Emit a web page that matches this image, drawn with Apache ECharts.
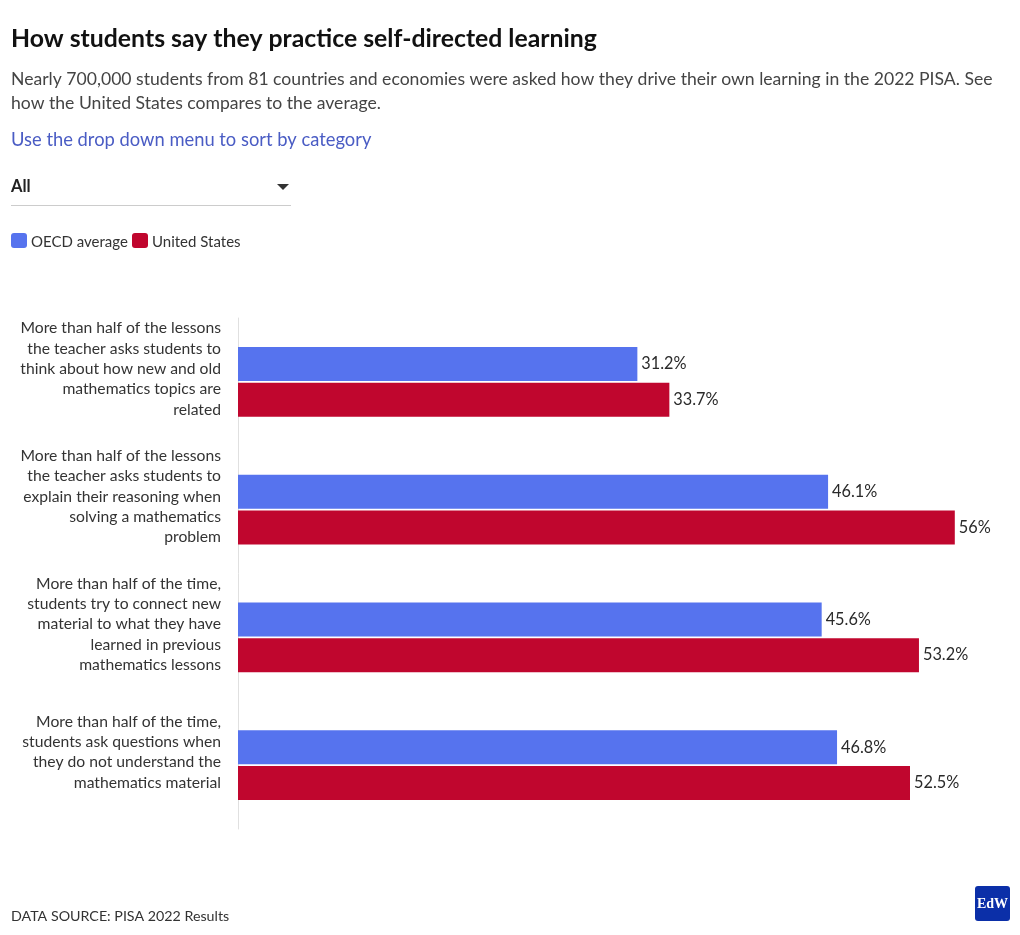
<!DOCTYPE html>
<html>
<head>
<meta charset="utf-8">
<script src="https://cdn.jsdelivr.net/npm/echarts@6/dist/echarts.min.js"></script>
<style>
html,body{margin:0;padding:0;background:#fff;}
#chart{width:1020px;height:935px;}
</style>
</head>
<body>
<div id="chart"></div>
<script>
const categories = [
  "More than half of the lessons\nthe teacher asks students to\nthink about how new and old\nmathematics topics are\nrelated",
  "More than half of the lessons\nthe teacher asks students to\nexplain their reasoning when\nsolving a mathematics\nproblem",
  "More than half of the time,\nstudents try to connect new\nmaterial to what they have\nlearned in previous\nmathematics lessons",
  "More than half of the time,\nstudents ask questions when\nthey do not understand the\nmathematics material"
];
const oecdAverage = [31.2, 46.1, 45.6, 46.8];
const unitedStates = [33.7, 56, 53.2, 52.5];
const seriesNames = ["OECD average", "United States"];

const FONT = 'Lato, "Source Sans Pro", "Noto Sans", sans-serif';
const chart = echarts.init(document.getElementById('chart'));

const option = {
  animation: false,
  textStyle: { fontFamily: FONT },
  grid: { left: 238, right: 14, top: 318, bottom: 106, containLabel: false },
  xAxis: {
    type: 'value', min: 0, max: 60,
    axisLine: { show: false }, axisTick: { show: false },
    axisLabel: { show: false }, splitLine: { show: false }
  },
  yAxis: {
    type: 'category', inverse: true, data: categories,
    axisLine: { show: true, lineStyle: { color: '#e0e0e0', width: 1 } },
    axisTick: { show: false },
    axisLabel: {
      interval: 0, hideOverlap: false,
      margin: 17, align: 'right', color: '#333', fontSize: 15.7, lineHeight: 20.3,
      fontFamily: FONT,
      formatter: v => v + '\n{s| }',
      rich: { s: { lineHeight: 26, fontSize: 10 } }
    }
  },
  legend: { show: false },
  series: [
    {
      name: seriesNames[0], type: 'bar', data: oecdAverage,
      barWidth: 34, barGap: '5%',
      itemStyle: { color: '#5673ee' },
      label: { show: true, position: 'right', distance: 4, color: '#2a2a2a', fontSize: 16.3, fontFamily: FONT,
        formatter: p => p.value + '%' }
    },
    {
      name: seriesNames[1], type: 'bar', data: unitedStates,
      barWidth: 34, barGap: '5%',
      itemStyle: { color: '#c0062e' },
      label: { show: true, position: 'right', distance: 4, color: '#2a2a2a', fontSize: 16.3, fontFamily: FONT,
        formatter: p => p.value + '%' }
    }
  ],
  graphic: [
    { type: 'text', left: 11, top: 27, style: { text: 'How students say they practice self-directed learning', font: 'bold 24.8px ' + FONT, fill: '#111' } },
    { type: 'text', left: 11, top: 67, style: { text: 'Nearly 700,000 students from 81 countries and economies were asked how they drive their own learning in the 2022 PISA. See\nhow the United States compares to the average.', font: '17.6px ' + FONT, fill: '#444', lineHeight: 24 } },
    { type: 'text', left: 11, top: 131, style: { text: 'Use the drop down menu to sort by category', font: '18.35px ' + FONT, fill: '#4a5cc4' } },
    { type: 'text', left: 11, top: 178, style: { text: 'All', font: 'bold 16.5px ' + FONT, fill: '#222' } },
    { type: 'polygon', shape: { points: [[277, 184], [289, 184], [283, 190]] }, style: { fill: '#333' } },
    { type: 'rect', shape: { x: 11, y: 205, width: 280, height: 1 }, style: { fill: '#cccccc' } },
    { type: 'rect', shape: { x: 11, y: 233, width: 16, height: 15, r: 3 }, style: { fill: '#5673ee' } },
    { type: 'text', left: 31, top: 235, style: { text: seriesNames[0], font: '15px ' + FONT, fill: '#333' } },
    { type: 'rect', shape: { x: 132, y: 233, width: 16, height: 15, r: 3 }, style: { fill: '#c0062e' } },
    { type: 'text', left: 152, top: 235, style: { text: seriesNames[1], font: '15px ' + FONT, fill: '#333' } },
    { type: 'text', left: 11, top: 909, style: { text: 'DATA SOURCE: PISA 2022 Results', font: '14.25px ' + FONT, fill: '#333' } },
    { type: 'rect', shape: { x: 975, y: 886, width: 35, height: 35, r: 3 }, style: { fill: '#0b2fa8' } },
    { type: 'text', x: 992.5, y: 904, style: { text: 'EdW', font: 'bold 14px "Liberation Serif", "DejaVu Serif", serif', fill: '#fff', align: 'center', verticalAlign: 'middle' } }
  ]
};
chart.setOption(option);
</script>
</body>
</html>
